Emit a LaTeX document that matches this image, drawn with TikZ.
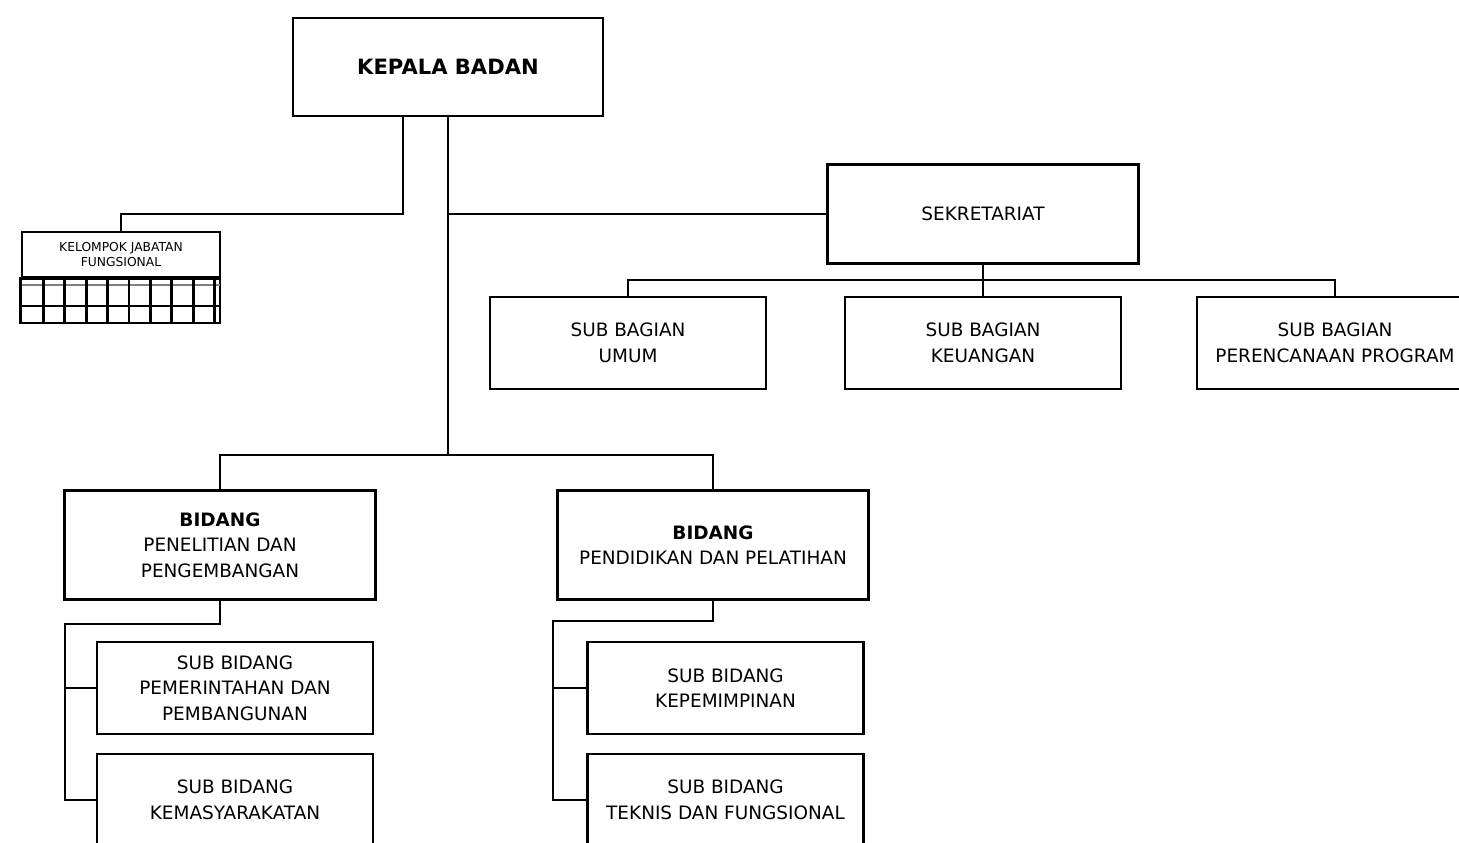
\documentclass[tikz,border=0pt]{standalone}
\usepackage{fontspec}
\setmainfont{DejaVu Sans}
\begin{document}
\begin{tikzpicture}[x=0.02cm,y=-0.02cm,line width=1.6pt]
\tikzstyle{box}=[rectangle,draw,black,fill=white,align=center,inner sep=2pt,font=\fontsize{10.5}{14.5}\selectfont]
\tikzstyle{sub}=[box,minimum width=5.52cm,minimum height=1.84cm]
\tikzstyle{bid}=[box,minimum width=6.22cm,minimum height=2.18cm]
\useasboundingbox (0,0) rectangle (1459,842);
\clip (0,0) rectangle (1459,842);

\node[box,minimum width=6.2cm,minimum height=1.96cm,font=\fontsize{12}{14}\selectfont\bfseries](KB) at (448,67) {KEPALA BADAN};
\node[box,minimum width=6.22cm,minimum height=1.98cm](SK) at (983,214) {SEKRETARIAT};
\node[sub](UM) at (628,343) {SUB BAGIAN\\UMUM};
\node[sub](KU) at (983,343) {SUB BAGIAN\\KEUANGAN};
\node[sub](PP) at (1335,343) {SUB BAGIAN\\PERENCANAAN PROGRAM};
\node[box,minimum width=3.96cm,minimum height=0.9cm,font=\fontsize{7}{9}\selectfont](KJ) at (121,254.5) {KELOMPOK JABATAN\\FUNGSIONAL};
\node[bid](BL) at (220,545) {\textbf{BIDANG}\\PENELITIAN DAN\\PENGEMBANGAN};
\node[bid](BR) at (713,545) {\textbf{BIDANG}\\PENDIDIKAN DAN PELATIHAN};
\node[sub](PB) at (235,688) {SUB BIDANG\\PEMERINTAHAN DAN\\PEMBANGUNAN};
\node[sub](KM) at (235,800) {SUB BIDANG\\KEMASYARAKATAN};
\node[sub](KP) at (725.5,688) {SUB BIDANG\\KEPEMIMPINAN};
\node[sub](TF) at (725.5,800) {SUB BIDANG\\TEKNIS DAN FUNGSIONAL};

% grid under kelompok jabatan
\draw (KJ.south west) rectangle (220,323);
\draw[line width=0.8pt,gray] (22,285) -- (220,285);
\draw (22,306) -- (220,306);
\foreach \i in {1,...,9}
  \draw (22+21.4*\i,277) -- (22+21.4*\i,323);

\coordinate (A) at (403,214);
\coordinate (T) at (448,455);
\coordinate (S1) at (983,280);
\coordinate (L1) at (65,624);
\coordinate (R1) at (553,621);

\draw (A |- KB.south) -- (A) -| (KJ.north);
\draw (KB.south) -- (T);
\draw (KB.south |- SK.west) -- (SK.west);
\draw (SK.south) -- (S1);
\draw (UM.north) |- (S1) -| (PP.north);
\draw (S1) -- (KU.north);
\draw (BL.north) |- (T) -| (BR.north);
\draw (BL.south) |- (L1) -- (L1 |- KM.west) -- (KM.west);
\draw (L1 |- PB.west) -- (PB.west);
\draw (BR.south) |- (R1) -- (R1 |- TF.west) -- (TF.west);
\draw (R1 |- KP.west) -- (KP.west);
\end{tikzpicture}
\end{document}
